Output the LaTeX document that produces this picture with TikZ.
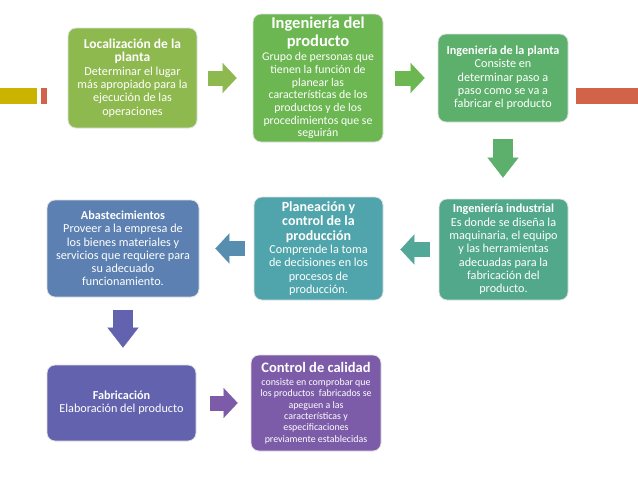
\documentclass[tikz,border=0pt]{standalone}
\usepackage{fontspec}
\setmainfont{Carlito}
\usetikzlibrary{calc}
\usetikzlibrary{positioning}
\usetikzlibrary{arrows.meta}
\definecolor{locgreen}{HTML}{8EB94E}
\definecolor{prodgreen}{HTML}{6CB751}
\definecolor{plantgreen}{HTML}{5CB06B}
\definecolor{indgreen}{HTML}{52A88A}
\definecolor{planteal}{HTML}{50A5AC}
\definecolor{supplyblue}{HTML}{5B80B1}
\definecolor{fabindigo}{HTML}{6262AE}
\definecolor{qualpurple}{HTML}{7C5CA8}
\definecolor{baryellow}{HTML}{CBB400}
\definecolor{barorange}{HTML}{D2634A}
\newcommand{\boxtitle}[2]{{\fontsize{#1}{#1}\selectfont\bfseries #2}}
\tikzstyle{stepbox} = [draw=black!12, line width=0.8pt, rounded corners=8pt, text=white, align=center, inner sep=1pt, font=\fontsize{12.2}{13.3}\selectfont]
\tikzstyle{fatarrowh} = [line width=15pt, -{Triangle[width=30pt,length=14pt,line width=0.1pt]}]
\tikzstyle{fatarrowv} = [line width=20pt, -{Triangle[width=31pt,length=20pt,line width=0.1pt]}]

\begin{document}
\begin{tikzpicture}[x=1pt,y=-1pt]
    \useasboundingbox (0,0) rectangle (638,479);
    \fill[baryellow] (0,88) rectangle (37,104);
    \fill[barorange] (41,88) rectangle (47,104);
    \fill[barorange] (576,88) rectangle (638,104);

    \node[stepbox, fill=locgreen, minimum width=129pt, minimum height=100pt] (loc_box) at (132.5,78) {\boxtitle{13.5}{Localización de la}\\\boxtitle{13.5}{planta}\\Determinar el lugar\\más apropiado para la\\ejecución de las\\operaciones};
    \node[stepbox, fill=prodgreen, minimum width=130pt, minimum height=128pt, font=\fontsize{11.8}{12.7}\selectfont] (prod_box) at ($(loc_box)+(185.5,0)$) {\boxtitle{16.5}{Ingeniería del}\\[2pt]\boxtitle{16.5}{producto}\\[2pt]Grupo de personas que\\tienen la función de\\planear las\\características de los\\productos y de los\\procedimientos que se\\seguirán};
    \node[stepbox, fill=plantgreen, minimum width=130pt, minimum height=88pt] (plant_box) at ($(prod_box)+(185,0)$) {\textbf{Ingeniería de la planta}\\Consiste en\\determinar paso a\\paso como se va a\\fabricar el producto};

    \node[stepbox, fill=indgreen, minimum width=129pt, minimum height=101pt] (ind_box) at ($(plant_box)+(0.5,171.5)$) {\textbf{Ingeniería industrial}\\Es donde se diseña la\\maquinaria, el equipo\\y las herramientas\\adecuadas para la\\fabricación del\\producto.};
    \node[stepbox, fill=planteal, minimum width=129pt, minimum height=103pt] (plan_box) at ($(ind_box)+(-185,-1)$) {\boxtitle{14}{Planeación y}\\[1pt]\boxtitle{14}{control de la}\\[1pt]\boxtitle{14}{producción}\\Comprende la toma\\de decisiones en los\\procesos de\\producción.};
    \node[stepbox, fill=supplyblue, minimum width=152pt, minimum height=97pt] (supply_box) at ($(plan_box)+(-195.5,0)$) {\textbf{Abastecimientos}\\Proveer a la empresa de\\los bienes materiales y\\servicios que requiere para\\su adecuado\\funcionamiento.};

    \node[stepbox, fill=fabindigo, minimum width=149pt, minimum height=76pt] (fab_box) at ($(supply_box)+(-1.5,154.5)$) {\textbf{Fabricación}\\Elaboración del producto};
    \node[stepbox, fill=qualpurple, minimum width=130pt, minimum height=96pt, font=\fontsize{9.9}{11.3}\selectfont] (qual_box) at ($(fab_box)+(194.5,0)$) {\boxtitle{14.5}{Control de calidad}\\[2pt]consiste en comprobar que\\los productos\ \ fabricados se\\apeguen a las\\características y\\especificaciones\\previamente establecidas};

    \draw[fatarrowh, locgreen, shorten <=11pt, shorten >=16pt] (loc_box.east) -- (loc_box.east -| prod_box.west);
    \draw[fatarrowh, prodgreen, shorten <=12pt, shorten >=13pt] (prod_box.east) -- (prod_box.east -| plant_box.west);
    \draw[fatarrowv, plantgreen, shorten <=17pt, shorten >=21pt] (plant_box.south) -- (plant_box.south |- ind_box.north);
    \draw[fatarrowh, indgreen!60!planteal, shorten <=9pt, shorten >=17pt] (ind_box.west) -- (ind_box.west -| plan_box.east);
    \draw[fatarrowh, planteal!35!supplyblue, shorten <=9pt, shorten >=16pt] (plan_box.west) -- (plan_box.west -| supply_box.east);
    \draw[fatarrowv, fabindigo, shorten <=13pt, shorten >=17pt] (supply_box.south) -- (supply_box.south |- fab_box.north);
    \draw[fatarrowh, qualpurple, shorten <=14pt, shorten >=13pt] (fab_box.east) -- (fab_box.east -| qual_box.west);
\end{tikzpicture}
\end{document}
